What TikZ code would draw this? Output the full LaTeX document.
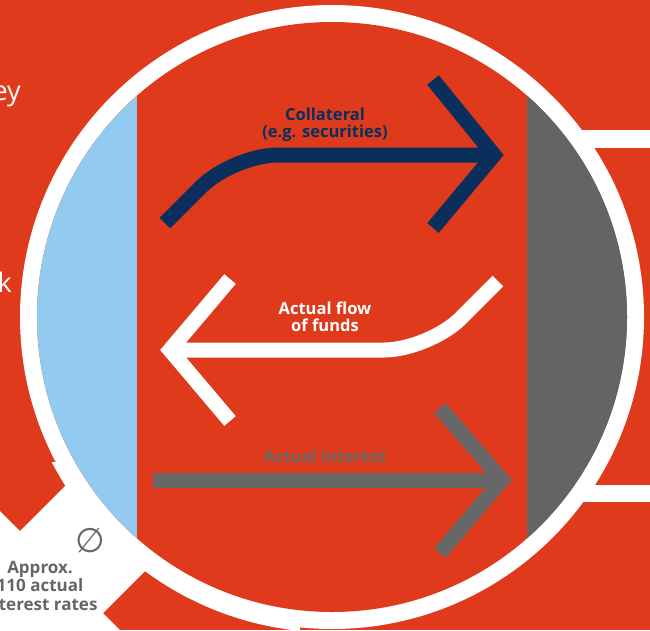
\documentclass[tikz,border=0pt]{standalone}
\usepackage{fontspec}
\setmainfont{Open Sans}
\newfontfamily\symfont{DejaVu Sans}
\definecolor{bgred}{HTML}{DE3A1B}
\definecolor{skyblue}{HTML}{93CAEF}
\definecolor{segmentgrey}{HTML}{646464}
\definecolor{navy}{HTML}{0A2F5C}
\definecolor{arrowgrey}{HTML}{676767}
\definecolor{labelgrey}{HTML}{666666}
\tikzset{
  band/.style={line width=15pt, line join=miter, line cap=butt},
  lbl/.style={font=\bfseries\fontsize{16.5}{17.5}\selectfont, align=center, inner sep=0pt},
  sidetext/.style={font=\fontsize{27}{30}\selectfont, text=white, inner sep=0pt}
}
\begin{document}
\begin{tikzpicture}[x=1pt,y=-1pt]
\useasboundingbox (0,0) rectangle (650,630);
\coordinate (c) at (332,317);

% background
\fill[bgred] (0,0) rectangle (650,630);

% white gap in the lower left, between the red tiles
\fill[white] (0,511) -- (20,531) -- (220,331) -- (200,516) -- (103,613)
  -- (120,630) -- (0,630) -- cycle;
\begin{scope}
  \clip (0,462) -- (60,462) -- (140,540) -- (300,560) -- (300,630) -- (0,630) -- cycle;
  \fill[white] (c) circle (315.5pt);
\end{scope}

% white bars on the right
\fill[white] (560,130) rectangle (650,148);
\fill[white] (560,485) rectangle (650,502);

% ring and its three segments
\fill[white] (c) circle (312pt);
\begin{scope}
  \clip (c) circle (295pt);
  \fill[bgred] (0,0) rectangle (650,630);
  \fill[skyblue] (0,0) rectangle (137,630);
  \fill[segmentgrey] (527,0) rectangle (650,630);
\end{scope}

% collateral arrow
\draw[band, navy, rounded corners=45pt] (165,223) -- (233,155) -- (494,155);
\draw[band, navy] (433,80) -- (494,155) -- (433,228);
\node[lbl, text=navy] (collateral) at (325,124.5) {Collateral\\(e.g. securities)};

% flow of funds arrow
\draw[band, white, rounded corners=45pt] (498,281) -- (429,350) -- (170,350);
\draw[band, white] (230,279) -- (170,350) -- (230,421);
\node[lbl, text=white] (funds) at (325,317) {Actual flow\\of funds};

% interest arrow
\draw[band, arrowgrey] (153,480) -- (502,480);
\draw[band, arrowgrey] (440,408) -- (502,480) -- (440,553);
\node[lbl, text=arrowgrey, anchor=base] (interest) at (325,462) {Actual interest};

% lower left label
\node[font=\symfont\fontsize{34}{34}\selectfont, text=labelgrey, inner sep=0pt] (avg) at (90,541) {∅};
\node[lbl, text=labelgrey, anchor=base, font=\bfseries\fontsize{17}{18.5}\selectfont] (approx) at (40,610) {Approx.\\110 actual\\interest rates};

% cut-off words at the left edge
\node[sidetext, anchor=base east] (wordA) at (21,100) {ey};
\node[sidetext, anchor=base east] (wordB) at (12,292) {k};
\end{tikzpicture}
\end{document}
